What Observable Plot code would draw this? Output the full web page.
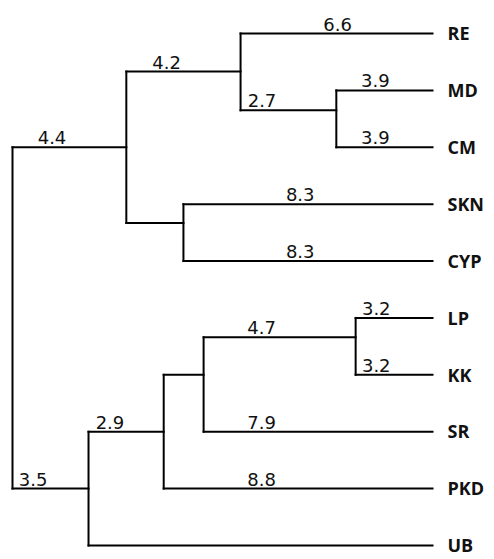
<!DOCTYPE html>
<html>
<head>
<meta charset="utf-8">
<script src="https://cdn.jsdelivr.net/npm/d3@7"></script>
<script src="https://cdn.jsdelivr.net/npm/@observablehq/plot@0.6"></script>
<style>
  html, body { margin: 0; padding: 0; background: #fff; }
  #chart svg { display: block; }
</style>
</head>
<body>
<div id="chart"></div>
<script>
// Leaves, top to bottom
const leaves = ["RE", "MD", "CM", "SKN", "CYP", "LP", "KK", "SR", "PKD", "UB"];

// Internal nodes: depth (0 = root, 1 = leaf tips) and row where the node joins its parent
const nodeNames    = ["root", "A", "B", "C", "D", "E", "F", "G", "H"];
const nodeDepth    = [0, 0.271, 0.543, 0.771, 0.407, 0.181, 0.36, 0.455, 0.817];
const nodeRow      = [null, 2.0, 0.67, 1.35, 3.33, 8.0, 7.0, 6.0, 5.34];
const nodeChildren = [["A", "E"], ["B", "D"], ["RE", "C"], ["MD", "CM"], ["SKN", "CYP"],
                      ["F", "UB"], ["G", "PKD"], ["H", "SR"], ["LP", "KK"]];

// Branch labels: branch (by child), text, depth where the label starts
const labelBranch = ["A", "B", "RE", "C", "MD", "CM", "SKN", "CYP", "E", "F", "PKD", "H", "SR", "LP", "KK"];
const labelText   = ["4.4", "4.2", "6.6", "2.7", "3.9", "3.9", "8.3", "8.3", "3.5", "2.9", "8.8", "4.7", "7.9", "3.2", "3.2"];
const labelDepth  = [0.06, 0.333, 0.74, 0.56, 0.83, 0.83, 0.651, 0.651, 0.015, 0.198, 0.559, 0.559, 0.559, 0.832, 0.832];

// ---- build geometry from the data ----
const info = new Map();
leaves.forEach((name, i) => info.set(name, {depth: 1, row: i}));
nodeNames.forEach((name, i) => info.set(name, {depth: nodeDepth[i], row: nodeRow[i]}));
const parentOf = new Map();
nodeChildren.forEach((kids, i) => kids.forEach(k => parentOf.set(k, nodeNames[i])));

const horizontals = [];
parentOf.forEach((p, c) => {
  horizontals.push({x1: info.get(p).depth, x2: info.get(c).depth, y: info.get(c).row});
});
const verticals = nodeChildren.map((kids, i) => {
  const rows = kids.map(k => info.get(k).row);
  return {x: nodeDepth[i], y1: d3.min(rows), y2: d3.max(rows)};
});
const labels = labelBranch.map((c, i) => ({x: labelDepth[i], y: info.get(c).row, text: labelText[i]}));
const leafLabels = leaves.map((name, i) => ({x: 1, y: i, text: name}));

const chart = Plot.plot({
  width: 494,
  height: 559,
  marginLeft: 12,
  marginRight: 62,
  marginTop: 33,
  marginBottom: 14,
  x: {domain: [0, 1], axis: null},
  y: {domain: [0, 9], reverse: true, axis: null},
  style: {background: "#fff"},
  marks: [
    Plot.link(horizontals, {x1: "x1", x2: "x2", y1: "y", y2: "y", stroke: "#000", strokeWidth: 2, strokeLinecap: "square"}),
    Plot.link(verticals, {x1: "x", x2: "x", y1: "y1", y2: "y2", stroke: "#000", strokeWidth: 2, strokeLinecap: "square"}),
    Plot.text(labels, {x: "x", y: "y", text: "text", textAnchor: "start", lineAnchor: "bottom", dy: -3,
      fontFamily: "DejaVu Sans", fontSize: 18, fill: "#111", letterSpacing: 1.5}),
    Plot.text(leafLabels, {x: "x", y: "y", text: "text", textAnchor: "start", dx: 15, dy: 1,
      fontFamily: "Open Sans", fontWeight: 700, fontSize: 18, fill: "#111"})
  ]
});
document.getElementById("chart").append(chart);
</script>
</body>
</html>
